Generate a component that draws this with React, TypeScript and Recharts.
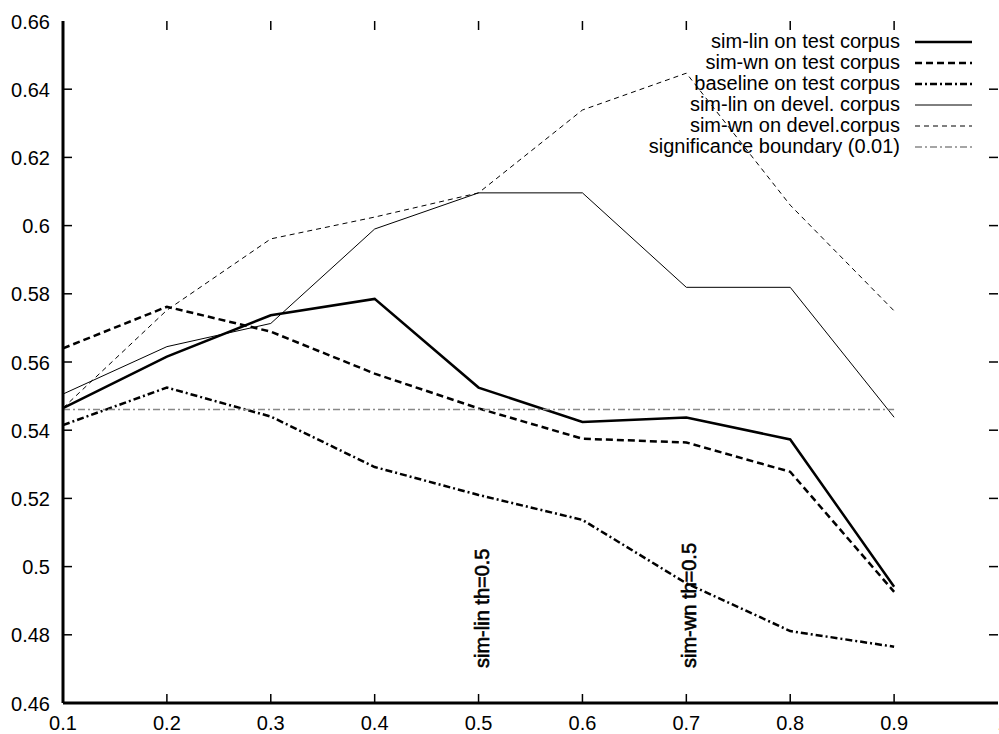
import { LineChart, Line, XAxis, YAxis, Legend, ReferenceLine } from 'recharts';

const thresholds = [0.1, 0.2, 0.3, 0.4, 0.5, 0.6, 0.7, 0.8, 0.9];
const simLinTest = [0.5465, 0.5616, 0.5737, 0.5785, 0.5525, 0.5424, 0.5437, 0.5373, 0.4941];
const simWnTest = [0.564, 0.5762, 0.5689, 0.5566, 0.5464, 0.5375, 0.5364, 0.5278, 0.4926];
const baselineTest = [0.5415, 0.5525, 0.544, 0.5292, 0.521, 0.5137, 0.4951, 0.4811, 0.4765];
const simLinDevel = [0.5506, 0.5645, 0.5713, 0.599, 0.6096, 0.6096, 0.5819, 0.5819, 0.5438];
const simWnDevel = [0.5465, 0.5752, 0.5961, 0.6025, 0.6096, 0.6339, 0.6447, 0.606, 0.575];
const significance = [0.5461, 0.5461, 0.5461, 0.5461, 0.5461, 0.5461, 0.5461, 0.5461, 0.5461];

const xTicks = [0.1, 0.2, 0.3, 0.4, 0.5, 0.6, 0.7, 0.8, 0.9, 1];
const yTicks = [0.46, 0.48, 0.5, 0.52, 0.54, 0.56, 0.58, 0.6, 0.62, 0.64, 0.66];

const data = thresholds.map((th, i) => ({
  th,
  simLinTest: simLinTest[i],
  simWnTest: simWnTest[i],
  baselineTest: baselineTest[i],
  simLinDevel: simLinDevel[i],
  simWnDevel: simWnDevel[i],
  significance: significance[i],
}));

const series = [
  { key: 'simLinTest', name: 'sim-lin on test corpus', color: '#000', width: 2.5, dash: undefined },
  { key: 'simWnTest', name: 'sim-wn on test corpus', color: '#000', width: 2.5, dash: '7 4' },
  { key: 'baselineTest', name: 'baseline on test corpus', color: '#000', width: 2.5, dash: '7 3 2 3' },
  { key: 'simLinDevel', name: 'sim-lin on devel. corpus', color: '#000', width: 1, dash: undefined },
  { key: 'simWnDevel', name: 'sim-wn on devel.corpus', color: '#000', width: 1, dash: '5 4' },
  { key: 'significance', name: 'significance boundary (0.01)', color: '#888', width: 1.5, dash: '7 3 2 3' },
];

const X_MIN = 0.1;
const X_MAX = 1;
const Y_MIN = 0.46;
const Y_MAX = 0.66;

const W = 999;
const H = 734;
const LEFT = 63;
const RIGHT = 998;
const TOP = 21;
const BOTTOM = 703;
// inward tick length (about 9px) in data units
const TICK_DX = (9 * (X_MAX - X_MIN)) / (RIGHT - LEFT);
const TICK_DY = (9 * (Y_MAX - Y_MIN)) / (BOTTOM - TOP);
const FONT = '"Liberation Sans", Arial, sans-serif';
const frame = { stroke: '#000', strokeWidth: 3 };

const fmt = (v: number) => String(Number(v.toFixed(2)));

function XTick({ x, payload }: any) {
  const v = payload.value;
  return (
    <text x={v === 1 ? x + 5 : x} y={730} textAnchor="middle" fontSize={20} fontFamily={FONT} fill="#000">
      {fmt(v)}
    </text>
  );
}

function YTick({ y, payload }: any) {
  return (
    <text x={50} y={y + 7.5} textAnchor="end" fontSize={20} fontFamily={FONT} fill="#000">
      {fmt(payload.value)}
    </text>
  );
}

function RotLabel({ viewBox, text }: any) {
  const x = viewBox.x + 10;
  const y = viewBox.y + viewBox.height - 35;
  return (
    <text
      x={x}
      y={y}
      transform={`rotate(-90 ${x} ${y})`}
      fontSize={20}
      fontFamily={FONT}
      fill="#000"
      stroke="#000"
      strokeWidth={0.6}
    >
      {text}
    </text>
  );
}

function LegendBox() {
  return (
    <div style={{ fontFamily: FONT, fontSize: 20 }}>
      {series.map((s) => (
        <div
          key={s.key}
          style={{ display: 'flex', justifyContent: 'flex-end', alignItems: 'center', height: 21, lineHeight: '21px' }}
        >
          <span>{s.name}</span>
          <svg width={57} height={21} style={{ marginLeft: 15 }}>
            <line
              x1={0}
              x2={57}
              y1={11}
              y2={11}
              stroke={s.color}
              strokeWidth={s.width}
              strokeDasharray={s.dash}
            />
          </svg>
        </div>
      ))}
    </div>
  );
}

export default function App() {
  const innerX = xTicks.filter((t) => t > X_MIN && t < X_MAX);
  const innerY = yTicks.filter((t) => t > Y_MIN && t < Y_MAX);
  return (
    <div style={{ position: 'absolute', left: 0, top: 0, background: '#fff' }}>
      <LineChart
        width={W}
        height={H}
        data={data}
        margin={{ top: TOP, right: W - RIGHT, left: 0, bottom: 0 }}
      >
        <XAxis
          dataKey="th"
          type="number"
          domain={[X_MIN, X_MAX]}
          ticks={xTicks}
          allowDataOverflow
          height={H - BOTTOM}
          axisLine={frame}
          tickLine={false}
          tick={<XTick />}
          interval={0}
        />
        <XAxis
          xAxisId="top"
          orientation="top"
          dataKey="th"
          type="number"
          domain={[X_MIN, X_MAX]}
          allowDataOverflow
          height={0}
          axisLine={frame}
          tickLine={false}
          tick={false}
        />
        <YAxis
          type="number"
          domain={[Y_MIN, Y_MAX]}
          ticks={yTicks}
          allowDataOverflow
          width={LEFT}
          axisLine={frame}
          tickLine={false}
          tick={<YTick />}
          interval={0}
        />
        <YAxis
          yAxisId="right"
          orientation="right"
          type="number"
          domain={[Y_MIN, Y_MAX]}
          allowDataOverflow
          width={0}
          axisLine={frame}
          tickLine={false}
          tick={false}
        />
        {innerX.map((t) => (
          <ReferenceLine
            key={`xb${t}`}
            segment={[{ x: t, y: Y_MIN }, { x: t, y: Y_MIN + TICK_DY }]}
            stroke="#000"
            strokeWidth={1.5}
            ifOverflow="visible"
          />
        ))}
        {innerX.map((t) => (
          <ReferenceLine
            key={`xt${t}`}
            segment={[{ x: t, y: Y_MAX }, { x: t, y: Y_MAX - TICK_DY }]}
            stroke="#000"
            strokeWidth={1.5}
            ifOverflow="visible"
          />
        ))}
        {innerY.map((t) => (
          <ReferenceLine
            key={`yl${t}`}
            segment={[{ x: X_MIN, y: t }, { x: X_MIN + TICK_DX, y: t }]}
            stroke="#000"
            strokeWidth={1.5}
            ifOverflow="visible"
          />
        ))}
        {innerY.map((t) => (
          <ReferenceLine
            key={`yr${t}`}
            segment={[{ x: X_MAX, y: t }, { x: X_MAX - TICK_DX, y: t }]}
            stroke="#000"
            strokeWidth={1.5}
            ifOverflow="visible"
          />
        ))}
        <ReferenceLine x={0.5} stroke="none" label={<RotLabel text="sim-lin th=0.5" />} />
        <ReferenceLine x={0.7} stroke="none" label={<RotLabel text="sim-wn th=0.5" />} />
        {series.map((s) => (
          <Line
            key={s.key}
            dataKey={s.key}
            name={s.name}
            type="linear"
            stroke={s.color}
            strokeWidth={s.width}
            strokeDasharray={s.dash}
            dot={false}
            activeDot={false}
            isAnimationActive={false}
          />
        ))}
        <Legend
          layout="vertical"
          align="center"
          verticalAlign="middle"
          content={<LegendBox />}
          wrapperStyle={{ top: 31, right: 27, left: 'auto', width: 'auto' }}
        />
      </LineChart>
    </div>
  );
}
